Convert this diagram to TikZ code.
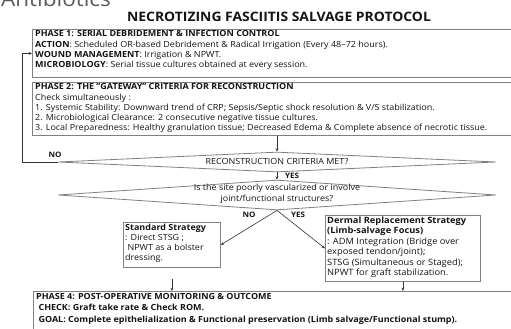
\documentclass[tikz,border=0pt]{standalone}
\usepackage{fontspec}
\setmainfont{Open Sans}[FakeStretch=1.07]
\usetikzlibrary{arrows.meta,shapes.geometric}
\definecolor{bordergray}{RGB}{128,128,128}
\definecolor{linegray}{RGB}{50,50,50}
\definecolor{txt}{RGB}{20,20,20}
\definecolor{antigray}{RGB}{90,90,90}
\begin{document}
\begin{tikzpicture}[x=1pt,y=-1pt,
  frame/.style={draw=bordergray, line width=0.8pt, anchor=north west, inner sep=0pt},
  boxtext/.style={anchor=north west, align=left, inner sep=0pt, text=txt, font=\fontsize{8.4}{10.3}\selectfont},
  arr/.style={draw=linegray, line width=0.6pt, -{Stealth[length=3.2pt,width=2.8pt]}},
  dec/.style={diamond, draw=bordergray, line width=0.8pt, inner sep=0pt},
  dectext/.style={align=center, inner sep=0pt, text=txt, font=\fontsize{8.4}{10.5}\selectfont},
  lbl/.style={font=\bfseries\fontsize{7.5}{9}\selectfont, text=txt, inner sep=0pt}]
\clip (0,0) rectangle (511,329);
\fill[white] (0,0) rectangle (511,329);

% heading
\node[anchor=base west, inner sep=0pt, text=antigray, font=\fontsize{21}{24}\selectfont] (anti) at (1,7) {Antibiotics};
\node[inner sep=0pt, text=txt, font=\bfseries\fontsize{13}{15}\selectfont] (title) at (279,17) {NECROTIZING FASCIITIS SALVAGE PROTOCOL};

% phase 1
\node[frame, minimum width=490pt, minimum height=48pt] (p1) at (32,29) {};
\node[boxtext] (p1t) at (35,30.5) {\textbf{PHASE 1: SERIAL DEBRIDEMENT \& INFECTION CONTROL}\\
\textbf{ACTION}: Scheduled OR-based Debridement \& Radical Irrigation (Every 48--72 hours).\\
\textbf{WOUND MANAGEMENT}: Irrigation \& NPWT.\\
\textbf{MICROBIOLOGY}: Serial tissue cultures obtained at every session.};

% phase 2
\node[frame, minimum width=490pt, minimum height=53pt] (p2) at (32,82) {};
\node[boxtext] (p2t) at (35,83.5) {\textbf{PHASE 2: THE "GATEWAY" CRITERIA FOR RECONSTRUCTION}\\
Check simultaneously :\\
1. Systemic Stability: Downward trend of CRP; Sepsis/Septic shock resolution \& V/S stabilization.\\
2. Microbiological Clearance: 2 consecutive negative tissue cultures.\\
3. Local Preparedness: Healthy granulation tissue; Decreased Edema \& Complete absence of necrotic tissue.};

% decisions
\node[dec, minimum width=438pt, minimum height=20pt] (d1) at (277,162) {};
\node[dectext] (d1t) at (277,162) {RECONSTRUCTION CRITERIA MET?};
\node[dec, minimum width=438pt, minimum height=30pt] (d2) at (277,195) {};
\node[dectext] (d2t) at (277,194) {Is the site poorly vascularized or involve\\joint/functional structures?};

% strategies
\node[frame, minimum width=97pt, minimum height=45pt] (std) at (123,222) {};
\node[boxtext] (stdt) at (125,223.5) {\textbf{Standard Strategy}\\
: Direct STSG ;\\
\ NPWT as a bolster\\
dressing.};
\node[frame, minimum width=155pt, minimum height=66pt] (drm) at (325,215) {};
\node[boxtext, font=\fontsize{8.7}{10.5}\selectfont] (drmt) at (327,216.5) {\textbf{Dermal Replacement Strategy}\\
\textbf{(Limb-salvage Focus)}\\
: ADM Integration (Bridge over\\
exposed tendon/joint);\\
STSG (Simultaneous or Staged);\\
NPWT for graft stabilization.};

% phase 4
\node[frame, minimum width=490pt, minimum height=50pt] (p4) at (33,291) {};
\node[boxtext, font=\bfseries\fontsize{8.4}{11.5}\selectfont] (p4t) at (36,293) {PHASE 4: POST-OPERATIVE MONITORING \& OUTCOME\\
\ CHECK: Graft take rate \& Check ROM.\\
\ GOAL: Complete epithelialization \& Functional preservation (Limb salvage/Functional stump).};

% connectors
\coordinate (loop) at (22,162);
\draw[arr] (d1.west) -- (loop) |- (p1.west);
\draw[arr] (d1.north |- p2.south) -- (d1.north);
\draw[arr] (d1.south) -- (d2.north);
\draw[arr] (d2.south) -- (std.east);
\draw[arr] (d2.south) -- (drm.west);
\draw[arr, shorten <=11pt] (std.south) -- (std.south |- p4.north);
\draw[arr] (drm.south) -- (drm.south |- p4.north);

% labels
\node[lbl] (no1) at (55,155) {NO};
\node[lbl] (yes1) at (292,176) {YES};
\node[lbl] (no2) at (249,215) {NO};
\node[lbl] (yes2) at (298,215) {YES};
\end{tikzpicture}
\end{document}
